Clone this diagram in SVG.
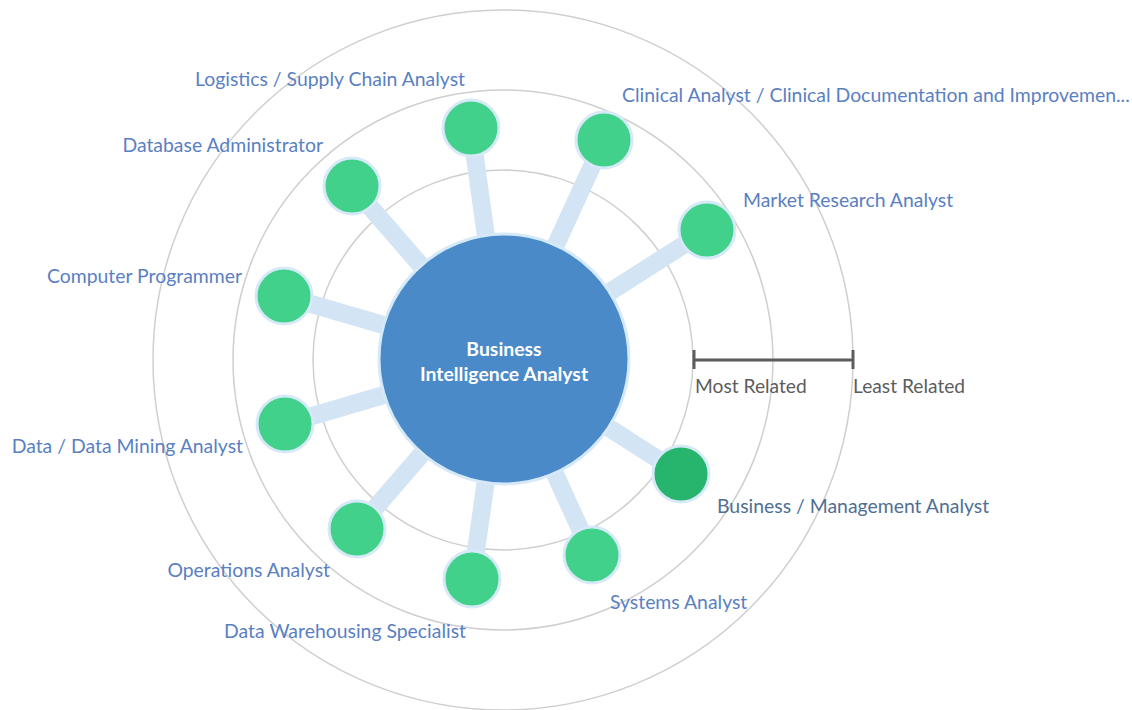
<svg xmlns="http://www.w3.org/2000/svg" width="1132" height="710" viewBox="0 0 1132 710">
<style>
.ring{fill:none;stroke:#cfcfcf;stroke-width:1.5}
.spoke{stroke:#d3e5f5;stroke-width:18;stroke-linecap:butt}
.node{fill:#42d18b;stroke:#d6e9f8;stroke-width:3}
.node2{fill:#27b46c;stroke:#d6e9f8;stroke-width:3}
.lbl{font-family:Lato,"Liberation Sans",sans-serif;font-size:19.4px;fill:#5a7fc2}
.lbl2{font-family:Lato,"Liberation Sans",sans-serif;font-size:19.4px;fill:#4f6f94}
.leg{font-family:Lato,"Liberation Sans",sans-serif;font-size:19.2px;fill:#5c5c5c}
.ctr{font-family:Lato,"Liberation Sans",sans-serif;font-size:19.4px;font-weight:bold;fill:#ffffff;text-anchor:middle}
</style>
<rect width="1132" height="710" fill="#ffffff"/>
<g id="rings">
<circle class="ring" cx="503" cy="360" r="350"/>
<circle class="ring" cx="503" cy="360" r="270"/>
<circle class="ring" cx="503" cy="360" r="190"/>
</g>
<g id="connectors">
<line class="spoke" x1="503" y1="360" x2="471" y2="128"/>
<line class="spoke" x1="503" y1="360" x2="604" y2="140"/>
<line class="spoke" x1="503" y1="360" x2="707" y2="230"/>
<line class="spoke" x1="503" y1="360" x2="352" y2="186"/>
<line class="spoke" x1="503" y1="360" x2="284" y2="296"/>
<line class="spoke" x1="503" y1="360" x2="285" y2="424"/>
<line class="spoke" x1="503" y1="360" x2="357" y2="529"/>
<line class="spoke" x1="503" y1="360" x2="472" y2="579"/>
<line class="spoke" x1="503" y1="360" x2="592" y2="555"/>
<line class="spoke" x1="503" y1="360" x2="681" y2="474"/>
</g>
<g id="center">
<circle cx="504" cy="359" r="125" fill="#4a8ac8" stroke="#d6e9f8" stroke-width="3"/>
<text class="ctr" x="504" y="356">Business</text>
<text class="ctr" x="504" y="381">Intelligence Analyst</text>
</g>
<g id="n-logistics"><circle class="node" cx="471" cy="128" r="28"/><text class="lbl" x="465" y="86" text-anchor="end">Logistics / Supply Chain Analyst</text></g>
<g id="n-clinical"><circle class="node" cx="604" cy="140" r="28"/><text class="lbl" x="622" y="102">Clinical Analyst / Clinical Documentation and Improvemen...</text></g>
<g id="n-market"><circle class="node" cx="707" cy="230" r="28"/><text class="lbl" x="743" y="207">Market Research Analyst</text></g>
<g id="n-dba"><circle class="node" cx="352" cy="186" r="28"/><text class="lbl" x="323" y="152" text-anchor="end">Database Administrator</text></g>
<g id="n-programmer"><circle class="node" cx="284" cy="296" r="28"/><text class="lbl" x="242" y="283" text-anchor="end">Computer Programmer</text></g>
<g id="n-datamining"><circle class="node" cx="285" cy="424" r="28"/><text class="lbl" x="243" y="453" text-anchor="end">Data / Data Mining Analyst</text></g>
<g id="n-operations"><circle class="node" cx="357" cy="529" r="28"/><text class="lbl" x="330" y="577" text-anchor="end">Operations Analyst</text></g>
<g id="n-warehousing"><circle class="node" cx="472" cy="579" r="28"/><text class="lbl" x="466" y="638" text-anchor="end">Data Warehousing Specialist</text></g>
<g id="n-systems"><circle class="node" cx="592" cy="555" r="28"/><text class="lbl" x="610" y="609">Systems Analyst</text></g>
<g id="n-business"><circle class="node2" cx="681" cy="474" r="28"/><text class="lbl2" x="717" y="513">Business / Management Analyst</text></g>
<g id="legend">
<line x1="694" y1="360" x2="853" y2="360" stroke="#5c5c5c" stroke-width="3"/>
<line x1="694" y1="350" x2="694" y2="369" stroke="#5c5c5c" stroke-width="3"/>
<line x1="853" y1="350" x2="853" y2="369" stroke="#5c5c5c" stroke-width="3"/>
<text class="leg" x="695" y="393">Most Related</text>
<text class="leg" x="853" y="393">Least Related</text>
</g>
</svg>
